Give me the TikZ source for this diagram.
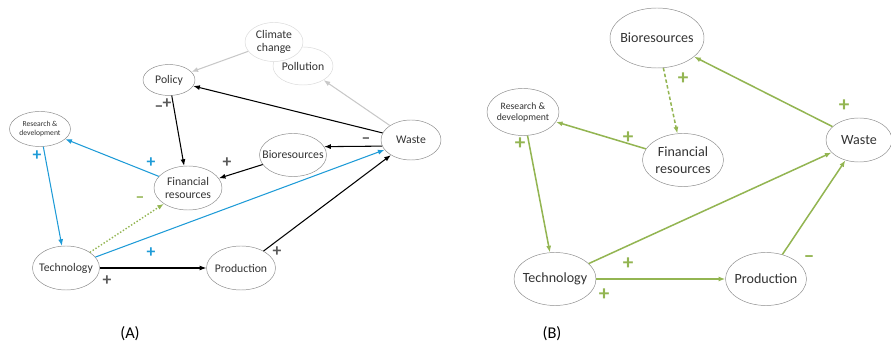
\documentclass[tikz,border=0pt]{standalone}
\usepackage{fontspec}
\setmainfont{Carlito}
\usetikzlibrary{arrows.meta,shapes.geometric}
\definecolor{ink}{HTML}{333333}
\definecolor{rim}{HTML}{8A8A8A}
\definecolor{haze}{HTML}{C8C8C8}
\definecolor{sky}{HTML}{1E9BD7}
\definecolor{olive}{HTML}{93B552}
\definecolor{slate}{HTML}{595959}

\begin{document}
\begin{tikzpicture}[x=0.03cm,y=-0.03cm,>={Latex[length=2mm,width=1.5mm]},
  ell/.style 2 args={ellipse,draw=rim,fill=white,inner sep=0pt,minimum width=#1cm,minimum height=#2cm},
  txa/.style={label={[align=center,text=ink,font=\fontsize{10}{11}\selectfont]center:#1}},
  txb/.style={label={[align=center,text=ink,font=\fontsize{12}{14}\selectfont]center:#1}},
  sgn/.style={inner sep=0pt,font=\fontsize{15}{15}\selectfont\bfseries},
  sgb/.style={inner sep=0pt,text=olive,font=\fontsize{18}{18}\selectfont\bfseries},
  linka/.style={->,line width=0.9pt},
  linkb/.style={->,olive,line width=1.3pt}]
  \useasboundingbox (0,0) rectangle (891,346);
  % (A)
  \node[ell={1.80}{1.14},draw=haze!70,txa=Pollution] (pollA) at (303,66) {};
  \node[ell={1.74}{1.17},draw=haze!70,txa={Climate\\change}] (climA) at (274,42) {};
  \node[ell={1.56}{0.93},txa=Policy] (polA) at (169,80) {};
  \node[ell={1.83}{1.05},label={[align=center,text=ink,font=\fontsize{6.5}{7.5}\selectfont]center:Research \&\\development}] (rdA) at (40,129) {};
  \node[ell={1.80}{1.20},txa=Waste] (wasteA) at (411,140) {};
  \node[ell={2.01}{1.29},txa=Bioresources] (bioA) at (293,155) {};
  \node[ell={2.04}{1.32},txa={Financial\\resources}] (finA) at (188,188) {};
  \node[ell={2.01}{1.32},txa=Technology] (techA) at (66,268) {};
  \node[ell={2.07}{1.32},txa=Production] (prodA) at (241,268) {};
  \draw[linka,haze] (climA) -- (polA);
  \draw[linka,haze] (wasteA) -- (pollA);
  \draw[linka] (wasteA) -- (polA);
  \draw[linka] (wasteA.192) -- (bioA.15);
  \draw[linka] (polA) -- (finA);
  \draw[linka] (bioA) -- (finA);
  \draw[linka,sky] (finA) -- (rdA);
  \draw[linka,sky] (rdA) -- (techA);
  \draw[linka,olive,line width=1.2pt,dash pattern=on 1.2pt off 1.6pt] (techA) -- (finA);
  \draw[linka,sky] (techA) -- (wasteA);
  \draw[linka] (techA) -- (prodA);
  \draw[linka] (prodA) -- (wasteA);
  \node[sgn,text=slate] (sWB) at (366,141) {–};
  \node[sgn,text=slate] (sPFm) at (159,109) {–};
  \node[sgn,text=slate] (sPFp) at (167,104) {+};
  \node[sgn,text=slate] (sBF) at (227,163) {+};
  \node[sgn,text=sky] (sFR) at (151,163) {+};
  \node[sgn,text=sky] (sRT) at (37,156) {+};
  \node[sgn,text=olive] (sTF) at (140,200) {–};
  \node[sgn,text=sky] (sTW) at (151,253) {+};
  \node[sgn,text=slate] (sTP) at (107,281) {+};
  \node[sgn,text=slate] (sPW) at (277,252) {+};
  \node[font=\fontsize{14}{16}\selectfont] (capA) at (130,334) {(A)};
  % (B)
  \node[ell={2.82}{1.80},txb=Bioresources] (bioB) at (657,38) {};
  \node[ell={2.16}{1.41},label={[align=center,text=ink,font=\fontsize{8.3}{9.5}\selectfont]center:Research \&\\development}] (rdB) at (523,112) {};
  \node[ell={2.43}{1.59},txb={Financial\\resources}] (finB) at (683,160) {};
  \node[ell={1.98}{1.32},txb=Waste] (wasteB) at (859,140) {};
  \node[ell={2.46}{1.59},txb=Technology] (techB) at (555,279) {};
  \node[ell={2.43}{1.59},txb=Production] (prodB) at (766,279) {};
  \draw[linkb] (wasteB) -- (bioB);
  \draw[linkb,dash pattern=on 3pt off 2pt] (bioB) -- (finB);
  \draw[linkb] (finB) -- (rdB);
  \draw[linkb] (rdB) -- (techB);
  \draw[linkb] (techB) -- (wasteB);
  \draw[linkb] (techB) -- (prodB);
  \draw[linkb] (prodB) -- (wasteB);
  \node[sgb] (sWBb) at (844,106) {+};
  \node[sgb] (sBFb) at (683,79) {+};
  \node[sgb] (sFRb) at (628,138) {+};
  \node[sgb] (sRTb) at (520,144) {+};
  \node[sgb] (sTWb) at (628,264) {+};
  \node[sgb] (sTPb) at (604,295) {+};
  \node[sgb] (sPWb) at (809,259) {–};
  \node[font=\fontsize{14}{16}\selectfont] (capB) at (552,334) {(B)};
\end{tikzpicture}
\end{document}
